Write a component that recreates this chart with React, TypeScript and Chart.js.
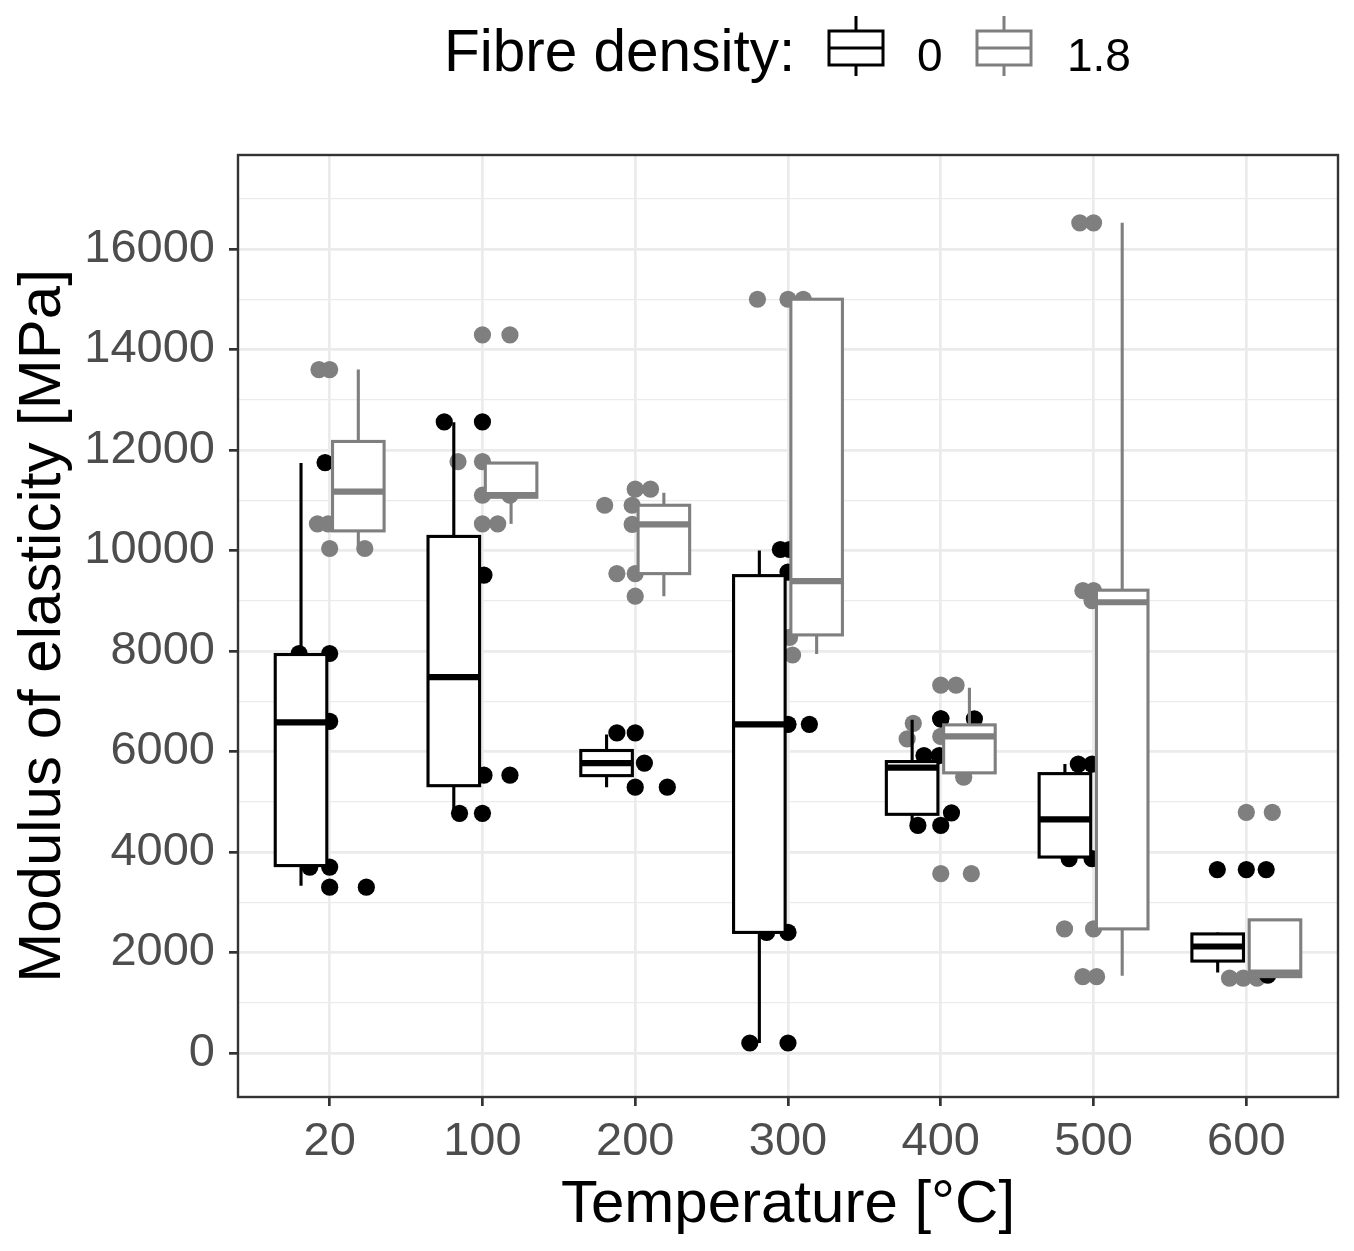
import { useEffect, useRef } from "react";
import { Chart, registerables } from "chart.js";
import type { Plugin } from "chart.js";

Chart.register(...registerables);

const temperatures = ["20", "100", "200", "300", "400", "500", "600"];
const yGridValues = [
  0, 1000, 2000, 3000, 4000, 5000, 6000, 7000, 8000, 9000, 10000, 11000, 12000,
  13000, 14000, 15000, 16000, 17000,
];

// box statistics, fibre density 0
const lowZero = [3330, 4770, 5290, 200, 4530, 3870, 1600];
const q1Zero = [3730, 5320, 5520, 2400, 4750, 3900, 1830];
const medZero = [6580, 7480, 5770, 6540, 5680, 4650, 2120];
const q3Zero = [7930, 10280, 6020, 9500, 5800, 5560, 2370];
const highZero = [11740, 12550, 6340, 10000, 6630, 5750, 2400];

// box statistics, fibre density 1.8
const lowOne = [10020, 10530, 9090, 7940, 5490, 1540, 1520];
const q1One = [10390, 11060, 9540, 8320, 5575, 2470, 1520];
const medOne = [11170, 11100, 10520, 9390, 6300, 8970, 1600];
const q3One = [12170, 11740, 10900, 15000, 6530, 9210, 2650];
const highOne = [13600, 11740, 11150, 15000, 7270, 16520, 2650];

// jittered observations, fibre density 0
const dotTempZero = [
  1, 1, 1, 1, 1, 1, 1, 1,
  2, 2, 2, 2, 2, 2, 2,
  3, 3, 3, 3, 3,
  4, 4, 4, 4, 4, 4, 4, 4, 4,
  5, 5, 5, 5, 5, 5, 5, 5,
  6, 6, 6, 6,
  7, 7, 7, 7,
];
const dotValueZero = [
  11750, 7950, 7950, 6600, 3700, 3700, 3300, 3300,
  12560, 12560, 9510, 5530, 5530, 4770, 4770,
  6370, 6370, 5770, 5290, 5290,
  10020, 10020, 9570, 6540, 6540, 2400, 2400, 200, 200,
  6650, 6650, 5920, 5920, 4780, 4530, 4530, 6650,
  5750, 5750, 3870, 3870,
  3650, 3650, 3650, 1550,
];
const dotJitterZero = [
  -0.03, -0.2, 0.0, 0.0, -0.13, 0.0, 0.0, 0.24,
  -0.25, 0.0, 0.01, 0.01, 0.18, -0.15, 0.0,
  -0.12, 0.0, 0.06, 0.0, 0.21,
  -0.05, 0.01, 0.0, 0.0, 0.14, -0.14, 0.0, -0.25, 0.0,
  0.0, 0.22, -0.11, -0.01, 0.07, -0.15, 0.0, 0.0,
  -0.1, -0.01, -0.16, -0.01,
  -0.19, 0.0, 0.13, 0.14,
];

// jittered observations, fibre density 1.8
const dotTempOne = [
  1, 1, 1, 1, 1, 1,
  2, 2, 2, 2, 2, 2, 2, 2,
  3, 3, 3, 3, 3, 3, 3, 3,
  4, 4, 4, 4, 4,
  5, 5, 5, 5, 5, 5, 5, 5,
  6, 6, 6, 6, 6, 6, 6, 6, 6,
  7, 7, 7, 7, 7,
];
const dotValueOne = [
  13600, 13600, 10530, 10530, 10040, 10040,
  14290, 14290, 11770, 11770, 11100, 11100, 10530, 10530,
  10900, 10900, 11220, 11220, 10520, 9540, 9540, 9090,
  15000, 15000, 15000, 8270, 7920,
  7320, 7320, 6560, 6250, 6300, 5490, 3570, 3570,
  16520, 16520, 9200, 9200, 9000, 2470, 2470, 1520, 1520,
  4790, 4790, 1490, 1490, 1490,
];
const dotJitterOne = [
  -0.07, 0.0, -0.08, -0.01, 0.0, 0.23,
  0.0, 0.18, -0.16, 0.0, 0.0, 0.18, 0.0, 0.1,
  -0.2, -0.02, 0.0, 0.1, -0.02, -0.12, 0.0, 0.0,
  -0.2, 0.0, 0.1, 0.01, 0.03,
  0.0, 0.1, -0.18, -0.22, 0.0, 0.15, 0.0, 0.2,
  -0.09, 0.0, -0.07, 0.0, -0.01, -0.19, 0.0, -0.07, 0.02,
  0.0, 0.17, -0.11, -0.02, 0.07,
];

const BLACK = "#000000";
const GREY = "#7f7f7f";
const FONT = "'Liberation Sans', Arial, sans-serif";
const DODGE = 0.1875;
const HALF_BOX = 0.16875;

const boxGroups = [
  { low: lowZero, q1: q1Zero, med: medZero, q3: q3Zero, high: highZero, color: BLACK, shift: -DODGE },
  { low: lowOne, q1: q1One, med: medOne, q3: q3One, high: highOne, color: GREY, shift: DODGE },
];

const boxPlugin: Plugin = {
  id: "boxes",
  afterDatasetsDraw(chart) {
    const { ctx, chartArea } = chart;
    const x = chart.scales.x;
    const y = chart.scales.y;
    ctx.save();
    ctx.beginPath();
    ctx.rect(chartArea.left, chartArea.top, chartArea.right - chartArea.left, chartArea.bottom - chartArea.top);
    ctx.clip();
    boxGroups.forEach((g) => {
      temperatures.forEach((_, i) => {
        const c = i + 1 + g.shift;
        const xc = x.getPixelForValue(c);
        const xl = x.getPixelForValue(c - HALF_BOX);
        const xr = x.getPixelForValue(c + HALF_BOX);
        const yLow = y.getPixelForValue(g.low[i]);
        const yQ1 = y.getPixelForValue(g.q1[i]);
        const yMed = y.getPixelForValue(g.med[i]);
        const yQ3 = y.getPixelForValue(g.q3[i]);
        const yHigh = y.getPixelForValue(g.high[i]);
        ctx.strokeStyle = g.color;
        ctx.lineWidth = 3.1;
        ctx.lineCap = "butt";
        // whiskers
        ctx.beginPath();
        ctx.moveTo(xc, yHigh);
        ctx.lineTo(xc, yQ3);
        ctx.moveTo(xc, yQ1);
        ctx.lineTo(xc, yLow);
        ctx.stroke();
        // box
        ctx.fillStyle = "#ffffff";
        ctx.fillRect(xl, yQ3, xr - xl, yQ1 - yQ3);
        ctx.strokeRect(xl, yQ3, xr - xl, yQ1 - yQ3);
        // median
        ctx.lineWidth = 6.2;
        ctx.beginPath();
        ctx.moveTo(xl, yMed);
        ctx.lineTo(xr, yMed);
        ctx.stroke();
      });
    });
    ctx.restore();

    ctx.save();
    ctx.strokeStyle = "#333333";
    ctx.lineWidth = 2.4;
    ctx.strokeRect(chartArea.left, chartArea.top, chartArea.right - chartArea.left, chartArea.bottom - chartArea.top);
    ctx.restore();
  },
};

function LegendGlyph({ color }: { color: string }) {
  return (
    <svg width="60" height="64" viewBox="0 0 60 64" style={{ position: "absolute", top: 0, left: 0 }}>
      <line x1="30" y1="2" x2="30" y2="17" stroke={color} strokeWidth="3" />
      <line x1="30" y1="51" x2="30" y2="62" stroke={color} strokeWidth="3" />
      <rect x="3" y="17" width="54" height="34" fill="#ffffff" stroke={color} strokeWidth="3" />
      <line x1="3" y1="34" x2="57" y2="34" stroke={color} strokeWidth="3" />
    </svg>
  );
}

export default function App() {
  const canvasRef = useRef<HTMLCanvasElement>(null);
  const chartRef = useRef<Chart | null>(null);

  useEffect(() => {
    if (!canvasRef.current) return;
    if (chartRef.current) chartRef.current.destroy();

    const zeroDots = dotValueZero.map((v, i) => ({ x: dotTempZero[i] + dotJitterZero[i], y: v }));
    const oneDots = dotValueOne.map((v, i) => ({ x: dotTempOne[i] + dotJitterOne[i], y: v }));

    chartRef.current = new Chart(canvasRef.current, {
      type: "scatter",
      data: {
        datasets: [
          {
            label: "0",
            data: zeroDots,
            backgroundColor: BLACK,
            borderWidth: 0,
            pointRadius: 8.6,
          },
          {
            label: "1.8",
            data: oneDots,
            backgroundColor: GREY,
            borderWidth: 0,
            pointRadius: 8.6,
          },
        ],
      },
      options: {
        animation: false,
        responsive: true,
        maintainAspectRatio: false,
        events: [],
        layout: { padding: { top: 155, right: 16, left: 0, bottom: 0 } },
        plugins: {
          legend: { display: false },
          tooltip: { enabled: false },
        },
        scales: {
          x: {
            type: "linear",
            min: 0.4,
            max: 7.6,
            afterBuildTicks: (s) => {
              s.ticks = temperatures.map((_, i) => ({ value: i + 1 }));
            },
            afterFit: (s) => {
              s.height = 154;
            },
            border: { display: false },
            grid: {
              color: "#ebebeb",
              lineWidth: 2.7,
              tickLength: 9,
              tickColor: "#333333",
              tickWidth: 2.7,
            },
            ticks: {
              autoSkip: false,
              maxRotation: 0,
              padding: 8,
              color: "#4d4d4d",
              font: { family: FONT, size: 47 },
              callback: (v) => temperatures[Number(v) - 1] ?? "",
            },
            title: {
              display: true,
              text: "Temperature [°C]",
              color: BLACK,
              font: { family: FONT, size: 60 },
              padding: { top: 0, bottom: 10 },
            },
          },
          y: {
            type: "linear",
            min: -875,
            max: 17870,
            afterBuildTicks: (s) => {
              s.ticks = yGridValues.map((v) => ({ value: v }));
            },
            afterFit: (s) => {
              s.width = 238;
            },
            border: { display: false },
            grid: {
              color: "#ebebeb",
              lineWidth: (c) => (c.tick && c.tick.value % 2000 === 0 ? 2.7 : 1.35),
              tickLength: 9,
              tickColor: (c) => (c.tick && c.tick.value % 2000 === 0 ? "#333333" : "rgba(0,0,0,0)"),
              tickWidth: 2.7,
            },
            ticks: {
              autoSkip: false,
              padding: 14,
              color: "#4d4d4d",
              font: { family: FONT, size: 47 },
              callback: (v) => (Number(v) % 2000 === 0 ? String(v) : ""),
            },
            title: {
              display: true,
              text: "Modulus of elasticity [MPa]",
              color: BLACK,
              font: { family: FONT, size: 60 },
              padding: { top: 7, bottom: 0 },
            },
          },
        },
      },
      plugins: [boxPlugin],
    });

    return () => {
      if (chartRef.current) {
        chartRef.current.destroy();
        chartRef.current = null;
      }
    };
  }, []);

  const textBase = { position: "absolute" as const, fontFamily: FONT, lineHeight: 1, whiteSpace: "nowrap" as const, color: BLACK };

  return (
    <div style={{ position: "absolute", left: 0, top: 0, width: 1354, height: 1251, background: "#ffffff" }}>
      <canvas ref={canvasRef} />
      <div style={{ ...textBase, left: 444, top: 22, fontSize: 58.5 }}>Fibre density:</div>
      <div style={{ position: "absolute", left: 826, top: 14, width: 60, height: 64 }}>
        <LegendGlyph color={BLACK} />
      </div>
      <div style={{ ...textBase, left: 917, top: 32, fontSize: 46 }}>0</div>
      <div style={{ position: "absolute", left: 974, top: 14, width: 60, height: 64 }}>
        <LegendGlyph color={GREY} />
      </div>
      <div style={{ ...textBase, left: 1067, top: 32, fontSize: 46 }}>1.8</div>
    </div>
  );
}
